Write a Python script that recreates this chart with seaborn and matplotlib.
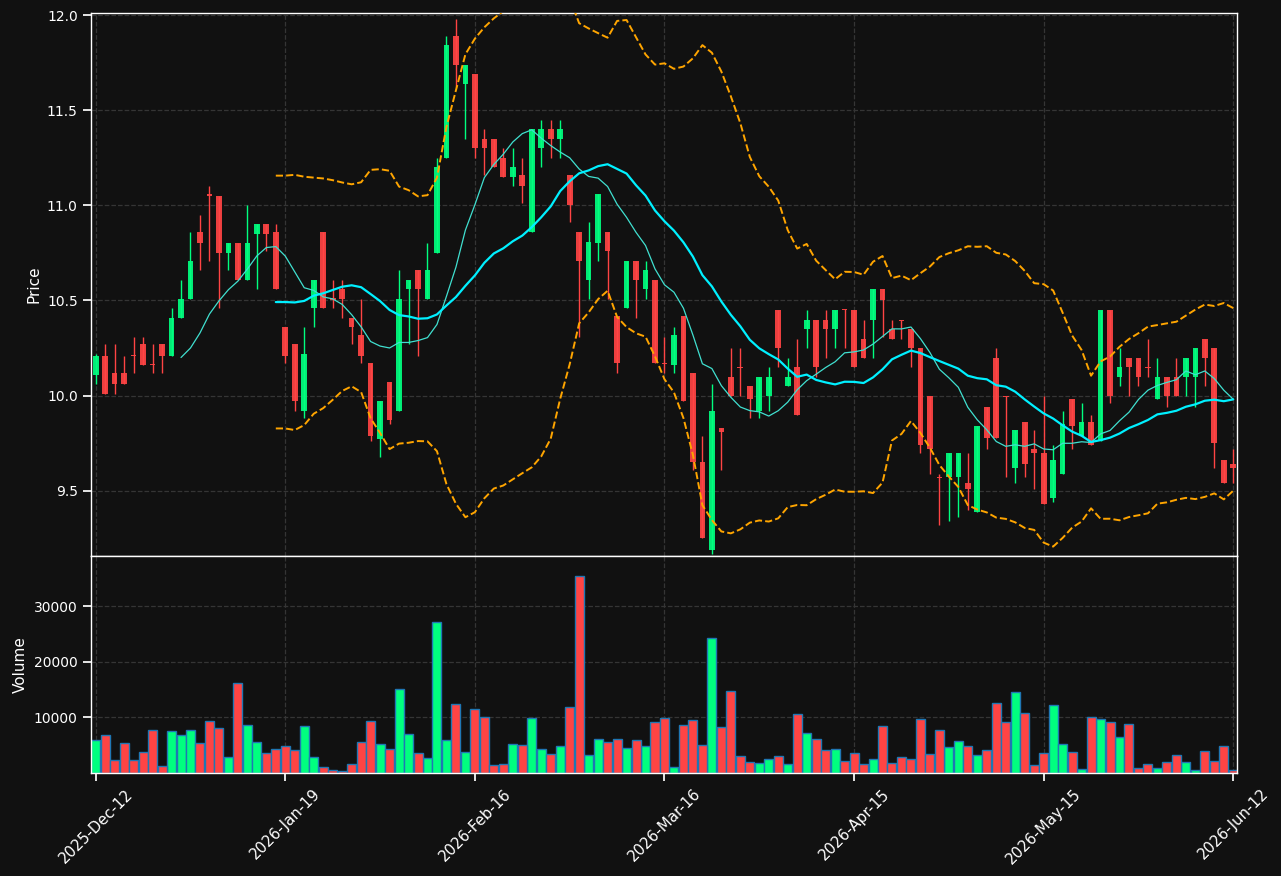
"""
Candlestick chart with MA10 / MA20, Bollinger bands and a volume panel.
"""

import numpy as np
import pandas as pd
import seaborn as sns
import matplotlib
matplotlib.use('Agg')
import matplotlib.pyplot as plt

# OHLC (index 0 = 2025-Dec-12, index 120 = 2026-Jun-12)
opens = [10.11, 10.21, 10.12, 10.12, 10.215, 10.27, 10.168, 10.27, 10.21, 10.41,
         10.51, 10.86, 11.057, 11.05, 10.75, 10.80, 10.61, 10.85, 10.90, 10.86,
         10.36, 10.27, 9.92, 10.46, 10.86, 10.515, 10.56, 10.41, 10.32, 10.17,
         9.77, 10.07, 9.92, 10.56, 10.66, 10.51, 10.75, 11.25, 11.89, 11.64,
         11.69, 11.35, 11.35, 11.25, 11.15, 11.16, 10.86, 11.30, 11.40, 11.35,
         11.16, 10.86, 10.61, 10.80, 10.86, 10.42, 10.46, 10.71, 10.56, 10.61,
         10.17, 10.16, 10.42, 10.12, 9.65, 9.19, 9.83, 10.10, 10.152, 10.05,
         9.92, 10.00, 10.45, 10.05, 10.15, 10.35, 10.40, 10.40, 10.35, 10.454,
         10.45, 10.30, 10.40, 10.56, 10.35, 10.40, 10.35, 10.25, 10.00, 9.573,
         9.57, 9.57, 9.54, 9.39, 9.94, 10.20, 10.00, 9.62, 9.86, 9.72,
         9.70, 9.46, 9.59, 9.98, 9.79, 9.86, 9.76, 10.45, 10.10, 10.20,
         10.20, 10.15, 9.98, 10.10, 10.10, 10.10, 10.10, 10.30, 10.25, 9.66,
         9.64]
highs = [10.22, 10.27, 10.27, 10.21, 10.31, 10.31, 10.27, 10.27, 10.46, 10.61,
         10.86, 10.95, 11.10, 11.05, 10.80, 10.80, 11.00, 10.90, 10.90, 10.90,
         10.36, 10.27, 10.36, 10.61, 10.86, 10.61, 10.61, 10.41, 10.51, 10.17,
         9.97, 10.07, 10.66, 10.61, 10.66, 10.80, 11.25, 11.89, 11.98, 11.74,
         11.69, 11.40, 11.35, 11.30, 11.30, 11.25, 11.40, 11.45, 11.45, 11.45,
         11.16, 10.86, 10.91, 11.06, 10.86, 10.42, 10.71, 10.71, 10.71, 10.61,
         10.31, 10.36, 10.42, 10.12, 9.79, 10.06, 9.83, 10.25, 10.25, 10.05,
         10.10, 10.15, 10.45, 10.20, 10.30, 10.45, 10.40, 10.45, 10.45, 10.454,
         10.45, 10.40, 10.56, 10.56, 10.40, 10.40, 10.35, 10.25, 10.00, 9.59,
         9.70, 9.70, 9.70, 9.84, 9.94, 10.25, 10.00, 9.82, 9.86, 9.82,
         10.00, 9.74, 9.92, 9.98, 9.96, 9.90, 10.45, 10.45, 10.25, 10.20,
         10.20, 10.30, 10.20, 10.10, 10.20, 10.20, 10.25, 10.30, 10.25, 9.66,
         9.72]
lows = [10.06, 10.01, 10.01, 10.06, 10.12, 10.16, 10.12, 10.12, 10.21, 10.41,
        10.51, 10.66, 10.71, 10.46, 10.66, 10.61, 10.61, 10.56, 10.76, 10.56,
        10.17, 9.92, 9.88, 10.36, 10.46, 10.46, 10.41, 10.27, 10.17, 9.76,
        9.68, 9.85, 9.92, 10.27, 10.21, 10.51, 10.75, 11.25, 11.62, 11.35,
        11.25, 11.16, 11.20, 11.15, 11.10, 11.01, 10.86, 11.20, 11.25, 11.25,
        10.91, 10.31, 10.51, 10.71, 10.51, 10.12, 10.46, 10.41, 10.51, 10.17,
        10.12, 10.12, 9.97, 9.61, 9.25, 9.17, 9.61, 10.00, 10.00, 9.88,
        9.88, 9.92, 10.15, 10.05, 9.90, 10.25, 10.10, 10.20, 10.25, 10.25,
        10.15, 10.20, 10.20, 10.31, 10.30, 10.30, 10.15, 9.70, 9.59, 9.32,
        9.34, 9.36, 9.40, 9.39, 9.72, 9.78, 9.57, 9.54, 9.57, 9.51,
        9.43, 9.44, 9.59, 9.72, 9.79, 9.74, 9.76, 9.96, 10.05, 10.00,
        10.05, 10.10, 9.98, 9.94, 10.00, 10.00, 9.94, 10.05, 9.62, 9.54,
        9.54]
closes = [10.21, 10.01, 10.06, 10.06, 10.21, 10.16, 10.164, 10.21, 10.41, 10.51,
          10.71, 10.80, 11.053, 10.75, 10.80, 10.61, 10.80, 10.90, 10.85, 10.56,
          10.21, 9.97, 10.22, 10.61, 10.46, 10.505, 10.51, 10.36, 10.21, 9.79,
          9.97, 9.87, 10.51, 10.61, 10.56, 10.66, 11.20, 11.84, 11.74, 11.74,
          11.30, 11.30, 11.20, 11.15, 11.20, 11.10, 11.40, 11.40, 11.35, 11.40,
          11.00, 10.71, 10.81, 11.06, 10.76, 10.17, 10.71, 10.61, 10.66, 10.17,
          10.165, 10.32, 9.97, 9.65, 9.25, 9.92, 9.81, 10.00, 10.148, 9.98,
          10.10, 10.10, 10.25, 10.10, 9.90, 10.40, 10.15, 10.35, 10.45, 10.45,
          10.15, 10.20, 10.56, 10.50, 10.30, 10.397, 10.25, 9.74, 9.72, 9.57,
          9.70, 9.70, 9.51, 9.84, 9.78, 9.78, 9.997, 9.82, 9.64, 9.70,
          9.43, 9.66, 9.85, 9.84, 9.86, 9.74, 10.45, 10.00, 10.15, 10.15,
          10.10, 10.147, 10.10, 10.00, 10.00, 10.20, 10.25, 10.20, 9.75, 9.54,
          9.62]
volumes = [5950, 6850, 2340, 5400, 2340, 3780, 7750, 1260, 7570, 6850,
           7750, 5400, 9370, 8110, 2880, 16220, 8650, 5590, 3600, 4320,
           4860, 4140, 8470, 2880, 1080, 540, 360, 1620, 5590, 9370,
           5230, 4320, 15140, 7030, 3600, 2700, 27210, 5950, 12430, 3780,
           11530, 10090, 1440, 1620, 5230, 5050, 9910, 4320, 3420, 4860,
           11890, 35500, 3240, 6130, 5590, 6130, 4500, 5950, 4860, 9190,
           9910, 1080, 8650, 9550, 5050, 24320, 8290, 14770, 3060, 1980,
           1800, 2520, 3060, 1620, 10630, 7210, 6130, 4140, 4320, 2160,
           3600, 1620, 2520, 8470, 1800, 2880, 2520, 9730, 3420, 7750,
           4680, 5770, 4860, 3240, 4140, 12610, 9190, 14590, 10810, 1440,
           3600, 12250, 5230, 3780, 720, 10090, 9730, 9190, 6490, 8830,
           900, 1620, 900, 1980, 3240, 1980, 540, 3960, 2160, 4860,
           540]
tick_pos = [0, 20, 40, 60, 80, 100, 120]
tick_labels = ['2025-Dec-12', '2026-Jan-19', '2026-Feb-16', '2026-Mar-16',
               '2026-Apr-15', '2026-May-15', '2026-Jun-12']

UP = '#00ff7f'
DOWN = '#ff4444'

df = pd.DataFrame({'open': opens, 'high': highs, 'low': lows,
                   'close': closes, 'volume': volumes})
df['idx'] = np.arange(len(df))
df['dir'] = np.where(df['close'] >= df['open'], 'up', 'down')
df['ma10'] = df['close'].rolling(10).mean()
df['ma20'] = df['close'].rolling(20).mean()
std20 = df['close'].rolling(20).std()
df['bb_up'] = df['ma20'] + 2 * std20
df['bb_dn'] = df['ma20'] - 2 * std20

sns.set_theme(style='dark', rc={
    'figure.facecolor': '#111111', 'axes.facecolor': '#111111',
    'axes.edgecolor': 'white', 'axes.labelcolor': 'white',
    'xtick.color': 'white', 'ytick.color': 'white', 'text.color': 'white',
    'xtick.bottom': True, 'ytick.left': True,
    'grid.color': '#353535', 'grid.linestyle': '--', 'axes.grid': True,
})
plt.rcParams['font.family'] = ['DejaVu Sans']
plt.rcParams['font.size'] = 10
plt.rcParams['axes.labelsize'] = 11
plt.rcParams['xtick.labelsize'] = 10.8
plt.rcParams['ytick.labelsize'] = 10

fig = plt.figure(figsize=(12.81, 8.76), dpi=100)
gs = fig.add_gridspec(2, 1, height_ratios=[5, 2], hspace=0,
                      left=0.071, right=0.9657, top=0.985, bottom=0.1176)
ax = fig.add_subplot(gs[0])
axv = fig.add_subplot(gs[1], sharex=ax)

# candles
colors = np.where(df['dir'] == 'up', UP, DOWN)
ax.vlines(df['idx'], df['low'], df['high'], colors=colors, linewidth=1, zorder=2)
body = (df['close'] - df['open']).to_numpy()
body = np.where(np.abs(body) < 0.006, np.where(body < 0, -0.006, 0.006), body)
ax.bar(df['idx'], body, bottom=df['open'], width=0.6, color=colors,
       linewidth=0, alpha=0.92, zorder=3)

# moving averages + bands
sns.lineplot(data=df, x='idx', y='ma10', ax=ax, color='#40e0d0', linewidth=0.9, zorder=4)
sns.lineplot(data=df, x='idx', y='ma20', ax=ax, color='#00f0ff', linewidth=1.6, zorder=5)
sns.lineplot(data=df, x='idx', y='bb_up', ax=ax, color='orange', linewidth=1.4,
             linestyle='--', zorder=4)
sns.lineplot(data=df, x='idx', y='bb_dn', ax=ax, color='orange', linewidth=1.4,
             linestyle='--', zorder=4)

ax.set_ylim(9.158, 12.01)
ax.set_yticks([9.5, 10.0, 10.5, 11.0, 11.5, 12.0])
ax.set_ylabel('Price')
ax.set_xlabel('')
ax.tick_params(labelbottom=False)

# volume
sns.barplot(data=df, x='idx', y='volume', hue='dir', palette={'up': UP, 'down': DOWN},
            dodge=False, native_scale=True, width=0.95, saturation=1,
            edgecolor='#1f77b4', linewidth=1, errorbar=None, legend=False, ax=axv)
axv.set_ylim(0, max(volumes) * 1.1)
axv.set_yticks([10000, 20000, 30000])
axv.set_ylabel('Volume')
axv.set_xlabel('')

axv.set_xlim(-0.5, 120.4)
axv.set_xticks(tick_pos)
axv.set_xticklabels(tick_labels, rotation=45, ha='center')

for a in (ax, axv):
    a.grid(True, color='#353535', linestyle='--', linewidth=0.9)
    a.set_axisbelow(True)
    for s in a.spines.values():
        s.set_color('white')
        s.set_linewidth(1)

fig.savefig('out.png', dpi=100, facecolor=fig.get_facecolor())
